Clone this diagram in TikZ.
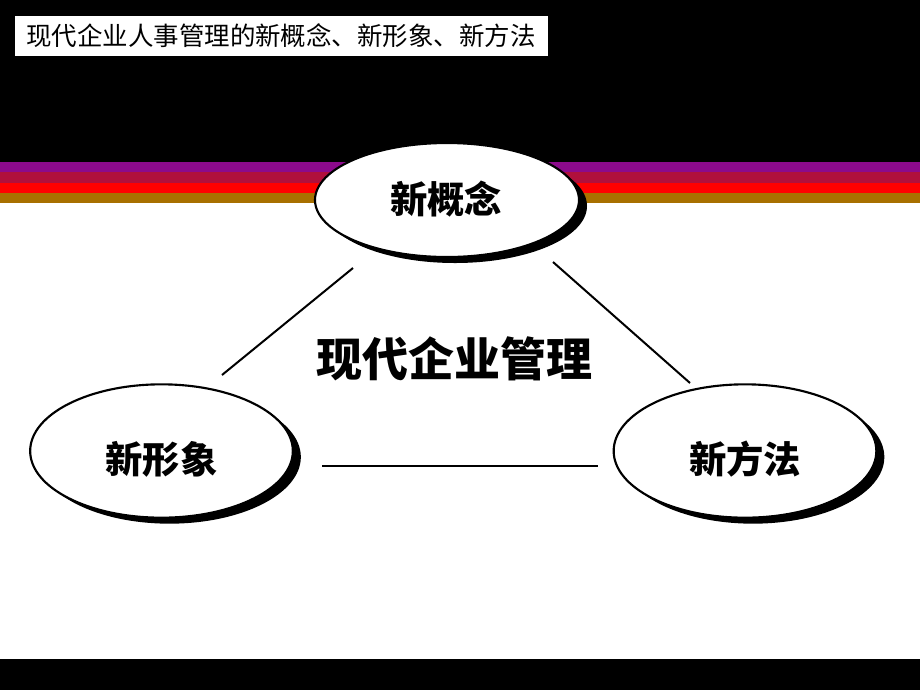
\documentclass[tikz,border=0pt]{standalone}
\usepackage{fontspec}
\newfontfamily\cjk{Noto Sans CJK SC}
\usetikzlibrary{shapes.geometric,shadows}
\definecolor{stripeA}{RGB}{140,10,140}
\definecolor{stripeB}{RGB}{176,16,60}
\definecolor{stripeC}{RGB}{255,0,0}
\definecolor{stripeD}{RGB}{168,112,0}
\tikzset{
  oval/.style={ellipse, draw=black, line width=1.6pt, fill=white, inner sep=0pt,
    drop shadow={shadow xshift=6pt, shadow yshift=-4.5pt, fill=black, opacity=1}},
  ovaltext/.style={inner sep=0pt, font=\cjk\bfseries\fontsize{28}{30}\selectfont},
  link/.style={line width=1.5pt, black},
}
\begin{document}
\begin{tikzpicture}[x=0.75pt,y=-0.75pt]
\useasboundingbox (0,0) rectangle (920,690);
\fill[white] (0,0) rectangle (920,690);
% top black band and stripes
\fill[black] (0,0) rectangle (920,161.5);
\fill[stripeA] (0,161.5) rectangle (920,172);
\fill[stripeB] (0,172) rectangle (920,182.5);
\fill[stripeC] (0,182.5) rectangle (920,193.3);
\fill[stripeD] (0,193.3) rectangle (920,203.3);
% bottom band
\fill[black] (0,658.7) rectangle (920,690);
% title box
\fill[white] (15,16) rectangle (548,55.5);
\node[anchor=west, inner sep=0pt, font=\cjk\fontsize{19.1}{22}\selectfont] (title) at (26,36) {现代企业人事管理的新概念、新形象、新方法};
% ovals
\node[oval, minimum width=198pt, minimum height=85.5pt] (top) at (447,200) {};
\node[oval, minimum width=197pt, minimum height=100pt] (left) at (161.5,451) {};
\node[oval, minimum width=197pt, minimum height=100pt] (right) at (745,451) {};
\node[ovaltext] (topt) at (446,199) {新概念};
\node[ovaltext] (leftt) at (161.5,459) {新形象};
\node[ovaltext] (rightt) at (745,459) {新方法};
% center label
\node[font=\cjk\bfseries\fontsize{34.5}{36}\selectfont] (center) at (454,359) {现代企业管理};
% connector endpoints
\coordinate (tl) at (353,268);
\coordinate (lt) at (222,375);
\coordinate (tr) at (553,262);
\coordinate (rt) at (690,383);
\coordinate (lr) at (322,466);
\coordinate (rl) at (598,466);
\draw[link] (tl) -- (lt);
\draw[link] (tr) -- (rt);
\draw[link] (lr) -- (rl);
\end{tikzpicture}
\end{document}
